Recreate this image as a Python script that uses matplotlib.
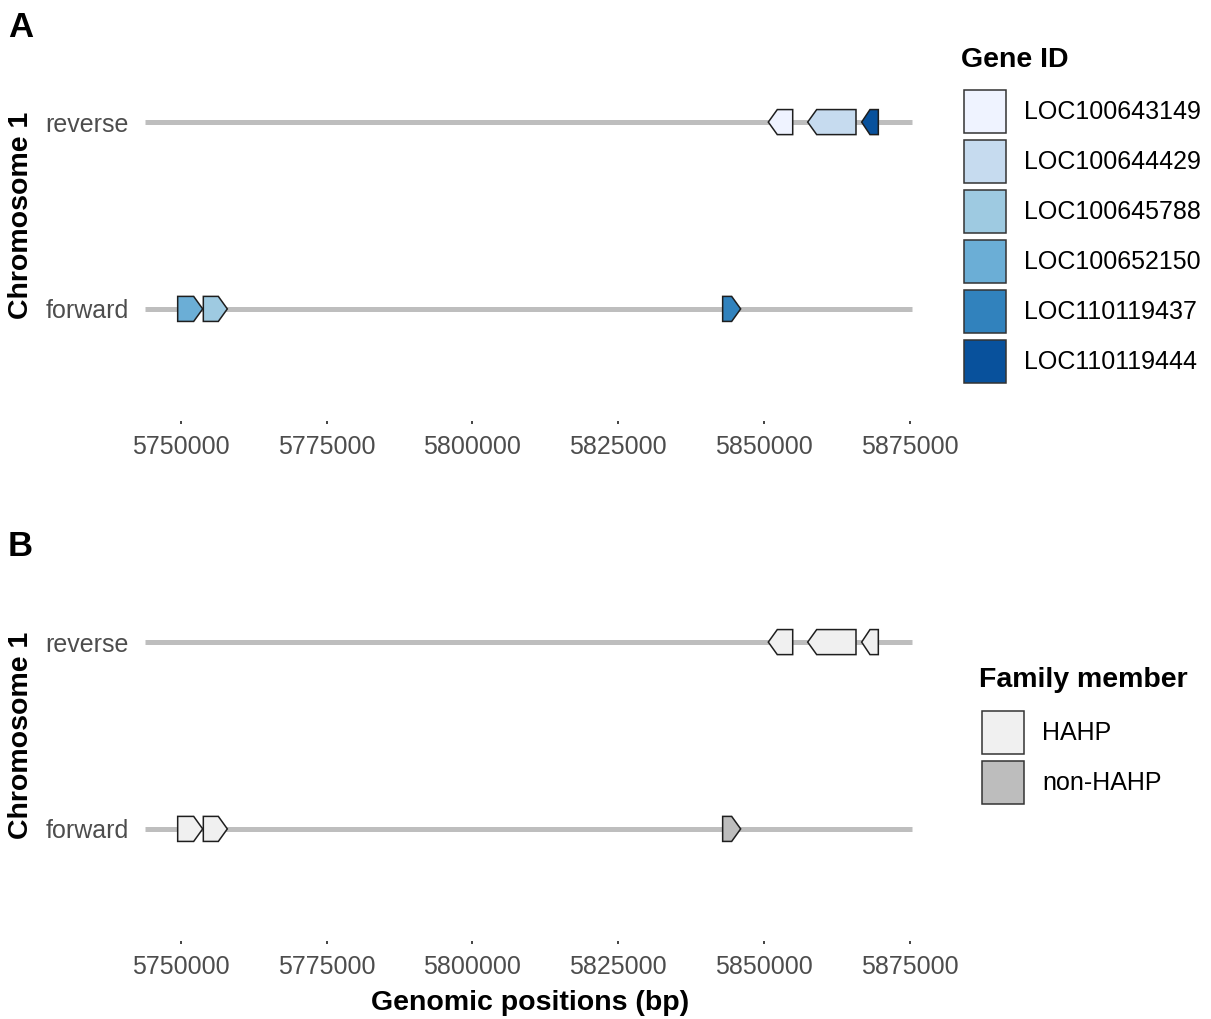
import matplotlib
matplotlib.use("Agg")
import matplotlib.pyplot as plt
from matplotlib.patches import Polygon, Patch

plt.rcParams['font.family'] = ['Liberation Sans', 'DejaVu Sans']

# gene data (chromosome 1)
gene_ids = ["LOC100643149", "LOC100644429", "LOC100645788",
            "LOC100652150", "LOC110119437", "LOC110119444"]
gene_start = [5850770, 5857530, 5753830, 5749430, 5842940, 5866790]
gene_end = [5854960, 5865820, 5757950, 5753720, 5846030, 5869650]
gene_strand = ["reverse", "reverse", "forward", "forward", "forward", "reverse"]
gene_family = ["HAHP", "HAHP", "HAHP", "HAHP", "non-HAHP", "HAHP"]

strands = ["forward", "reverse"]
track_start = 5743800
track_end = 5875500
x_ticks = [5750000, 5775000, 5800000, 5825000, 5850000, 5875000]

gene_colors = ["#EFF3FF", "#C6DBEF", "#9ECAE1", "#6BAED6", "#3182BD", "#08519C"]
family_names = ["HAHP", "non-HAHP"]
family_colors = ["#F0F0F0", "#BDBDBD"]

W, H = 1211, 1019
fig = plt.figure(figsize=(W / 100, H / 100), dpi=100)

bp_per_px = 25000 / 145.7
xlim = (5750000 - 51 * bp_per_px, 5750000 + 749 * bp_per_px)


def draw_genes(ax, fills):
    # background track lines
    for i, s in enumerate(strands):
        ax.plot([track_start, track_end], [i + 1, i + 1], color="#BEBEBE",
                lw=3.6, solid_capstyle="butt", zorder=1)
    h = 0.067
    for start, end, strand, fc in zip(gene_start, gene_end, gene_strand, fills):
        y = strands.index(strand) + 1
        hl = min(1545, 0.5 * (end - start))
        if strand == "forward":
            pts = [(start, y - h), (end - hl, y - h), (end, y),
                   (end - hl, y + h), (start, y + h)]
        else:
            pts = [(end, y - h), (start + hl, y - h), (start, y),
                   (start + hl, y + h), (end, y + h)]
        ax.add_patch(Polygon(pts, closed=True, facecolor=fc, edgecolor="#1E1E1E",
                             lw=1.1, joinstyle="miter", zorder=3))
    ax.set_xlim(*xlim)
    ax.set_ylim(0.4, 2.6)
    ax.set_yticks([1, 2], strands)
    ax.set_xticks(x_ticks, [str(t) for t in x_ticks])
    for sp in ax.spines.values():
        sp.set_visible(False)
    ax.tick_params(axis="x", length=1.8, width=1.2, color="#222222",
                   labelsize=18, labelcolor="#4D4D4D", pad=8)
    ax.tick_params(axis="y", length=0, labelsize=18, labelcolor="#4D4D4D", pad=1)
    ax.set_ylabel("Chromosome 1", fontsize=20.5, fontweight="bold")
    ax.yaxis.set_label_coords(-0.12, 0.5)


left = 130 / W
width = 800 / W
axA = fig.add_axes([left, 1 - 421 / H, width, 411 / H])
axB = fig.add_axes([left, 1 - 941 / H, width, 411 / H])

color_by_id = dict(zip(gene_ids, gene_colors))
draw_genes(axA, [color_by_id[g] for g in gene_ids])
fam_color = dict(zip(family_names, family_colors))
draw_genes(axB, [fam_color[f] for f in gene_family])
axB.set_xlabel("Genomic positions (bp)", fontsize=20.5, fontweight="bold", labelpad=8)

fig.text(8 / W, 1 - 11 / H, "A", fontsize=25, fontweight="bold", va="top")
fig.text(8 / W, 1 - 530 / H, "B", fontsize=25, fontweight="bold", va="top")

# legends (titles drawn as separate text)
leg_kw = dict(loc="upper left", frameon=False, fontsize=18, borderpad=0,
              borderaxespad=0, handlelength=1.68, handleheight=2.27,
              labelspacing=0.28, handletextpad=0.72)
fig.text(961 / W, 1 - 60 / H, "Gene ID", fontsize=20.5, fontweight="bold", va="center")
handlesA = [Patch(facecolor=c, edgecolor="#333333", lw=1.1) for c in gene_colors]
fig.legend(handlesA, gene_ids, bbox_to_anchor=(964 / W, 1 - 90 / H), **leg_kw)

fig.text(979 / W, 1 - 680 / H, "Family member", fontsize=20.5, fontweight="bold", va="center")
handlesB = [Patch(facecolor=c, edgecolor="#333333", lw=1.1) for c in family_colors]
fig.legend(handlesB, family_names, bbox_to_anchor=(982 / W, 1 - 711 / H), **leg_kw)

fig.savefig("out.png", dpi=100, facecolor="white")
